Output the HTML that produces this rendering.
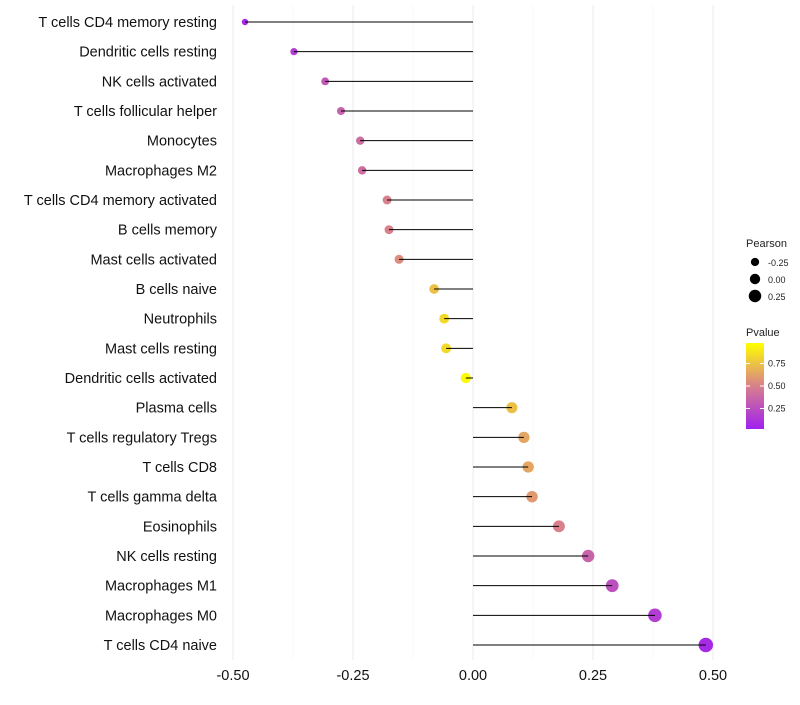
<!DOCTYPE html>
<html><head><meta charset="utf-8"><style>
body{margin:0;background:#fff;font-family:"Liberation Sans",sans-serif}
</style></head><body>
<svg id="c" width="800" height="700" xmlns="http://www.w3.org/2000/svg">
<defs><linearGradient id="pg" x1="0" y1="1" x2="0" y2="0">
<stop offset="0" stop-color="#a020f0"/><stop offset="0.5" stop-color="#d8808c"/><stop offset="1" stop-color="#ffff00"/></linearGradient></defs>
</svg>
<script>
const categories=["T cells CD4 memory resting","Dendritic cells resting","NK cells activated","T cells follicular helper","Monocytes","Macrophages M2","T cells CD4 memory activated","B cells memory","Mast cells activated","B cells naive","Neutrophils","Mast cells resting","Dendritic cells activated","Plasma cells","T cells regulatory  Tregs ","T cells CD8","T cells gamma delta","Eosinophils","NK cells resting","Macrophages M1","Macrophages M0","T cells CD4 naive"];
const pearson=[-0.475,-0.373,-0.308,-0.275,-0.235,-0.231,-0.179,-0.175,-0.154,-0.081,-0.060,-0.056,-0.015,0.081,0.106,0.115,0.123,0.179,0.240,0.290,0.379,0.485];
const pvalue=[0.05,0.15,0.3,0.35,0.4,0.4,0.5,0.5,0.55,0.75,0.85,0.85,0.98,0.75,0.65,0.65,0.6,0.5,0.35,0.25,0.15,0.05];
const xTicks=[-0.5,-0.25,0,0.25,0.5];
const xTickLabels=["-0.50","-0.25","0.00","0.25","0.50"];
const svg=document.getElementById('c');const NS="http://www.w3.org/2000/svg";
const x=v=>473+v*480;
const y=i=>22+i*(623/21);
function mk(t,a,p){const e=document.createElementNS(NS,t);for(const k in a)e.setAttribute(k,a[k]);(p||svg).appendChild(e);return e;}
function col(p){const s=[[160,32,240],[216,128,140],[255,255,0]];let t=Math.max(0,Math.min(1,p));let a,b,f;if(t<0.5){a=s[0];b=s[1];f=t/0.5}else{a=s[1];b=s[2];f=(t-0.5)/0.5}return `rgb(${a.map((c,i)=>Math.round(c+(b[i]-c)*f)).join(',')})`;}
const rad=v=>Math.max(1.5,5.2+4.2*v);
[-0.5,-0.375,-0.25,-0.125,0,0.125,0.25,0.375,0.5].forEach(v=>{const g=mk('line',{x1:x(v),x2:x(v),y1:5,y2:660,stroke:Number.isInteger(v*4)?'#ebebeb':'#f4f4f4','stroke-width':Number.isInteger(v*4)?1:0.6});

});
xTicks.forEach((v,i)=>{const t=mk('text',{x:x(v),y:680,'text-anchor':'middle','font-size':14.5,fill:'#111'});t.textContent=xTickLabels[i];

});
categories.forEach((c,i)=>{
const t=mk('text',{x:217,y:y(i)+5,'text-anchor':'end','font-size':14.5,fill:'#111'});t.textContent=c;


const d=mk('circle',{cx:x(pearson[i]),cy:y(i),r:rad(pearson[i]),fill:col(pvalue[i])});


const l=mk('line',{x1:x(0),x2:x(pearson[i]),y1:y(i),y2:y(i),stroke:'#000','stroke-width':1});


});
const lg=mk('g',{});


let t=mk('text',{x:746,y:247,'font-size':11,fill:'#222'},lg);t.textContent='Pearson';
[-0.25,0,0.25].forEach((v,i)=>{mk('circle',{cx:755,cy:262+i*17,r:rad(v),fill:'#000'},lg);const tt=mk('text',{x:768,y:266+i*17,'font-size':9,fill:'#222'},lg);tt.textContent=['-0.25','0.00','0.25'][i];});
t=mk('text',{x:746,y:336,'font-size':11,fill:'#222'},lg);t.textContent='Pvalue';
mk('rect',{x:746,y:343,width:18,height:86,fill:'url(#pg)'},lg);
[0.75,0.5,0.25].forEach((v,i)=>{const yy=431-v*90;mk('line',{x1:746,x2:750,y1:yy,y2:yy,stroke:'#fff'},lg);mk('line',{x1:760,x2:764,y1:yy,y2:yy,stroke:'#fff'},lg);const tt=mk('text',{x:768,y:yy+3,'font-size':9,fill:'#222'},lg);tt.textContent=v.toFixed(2);});
</script>
</body></html>
